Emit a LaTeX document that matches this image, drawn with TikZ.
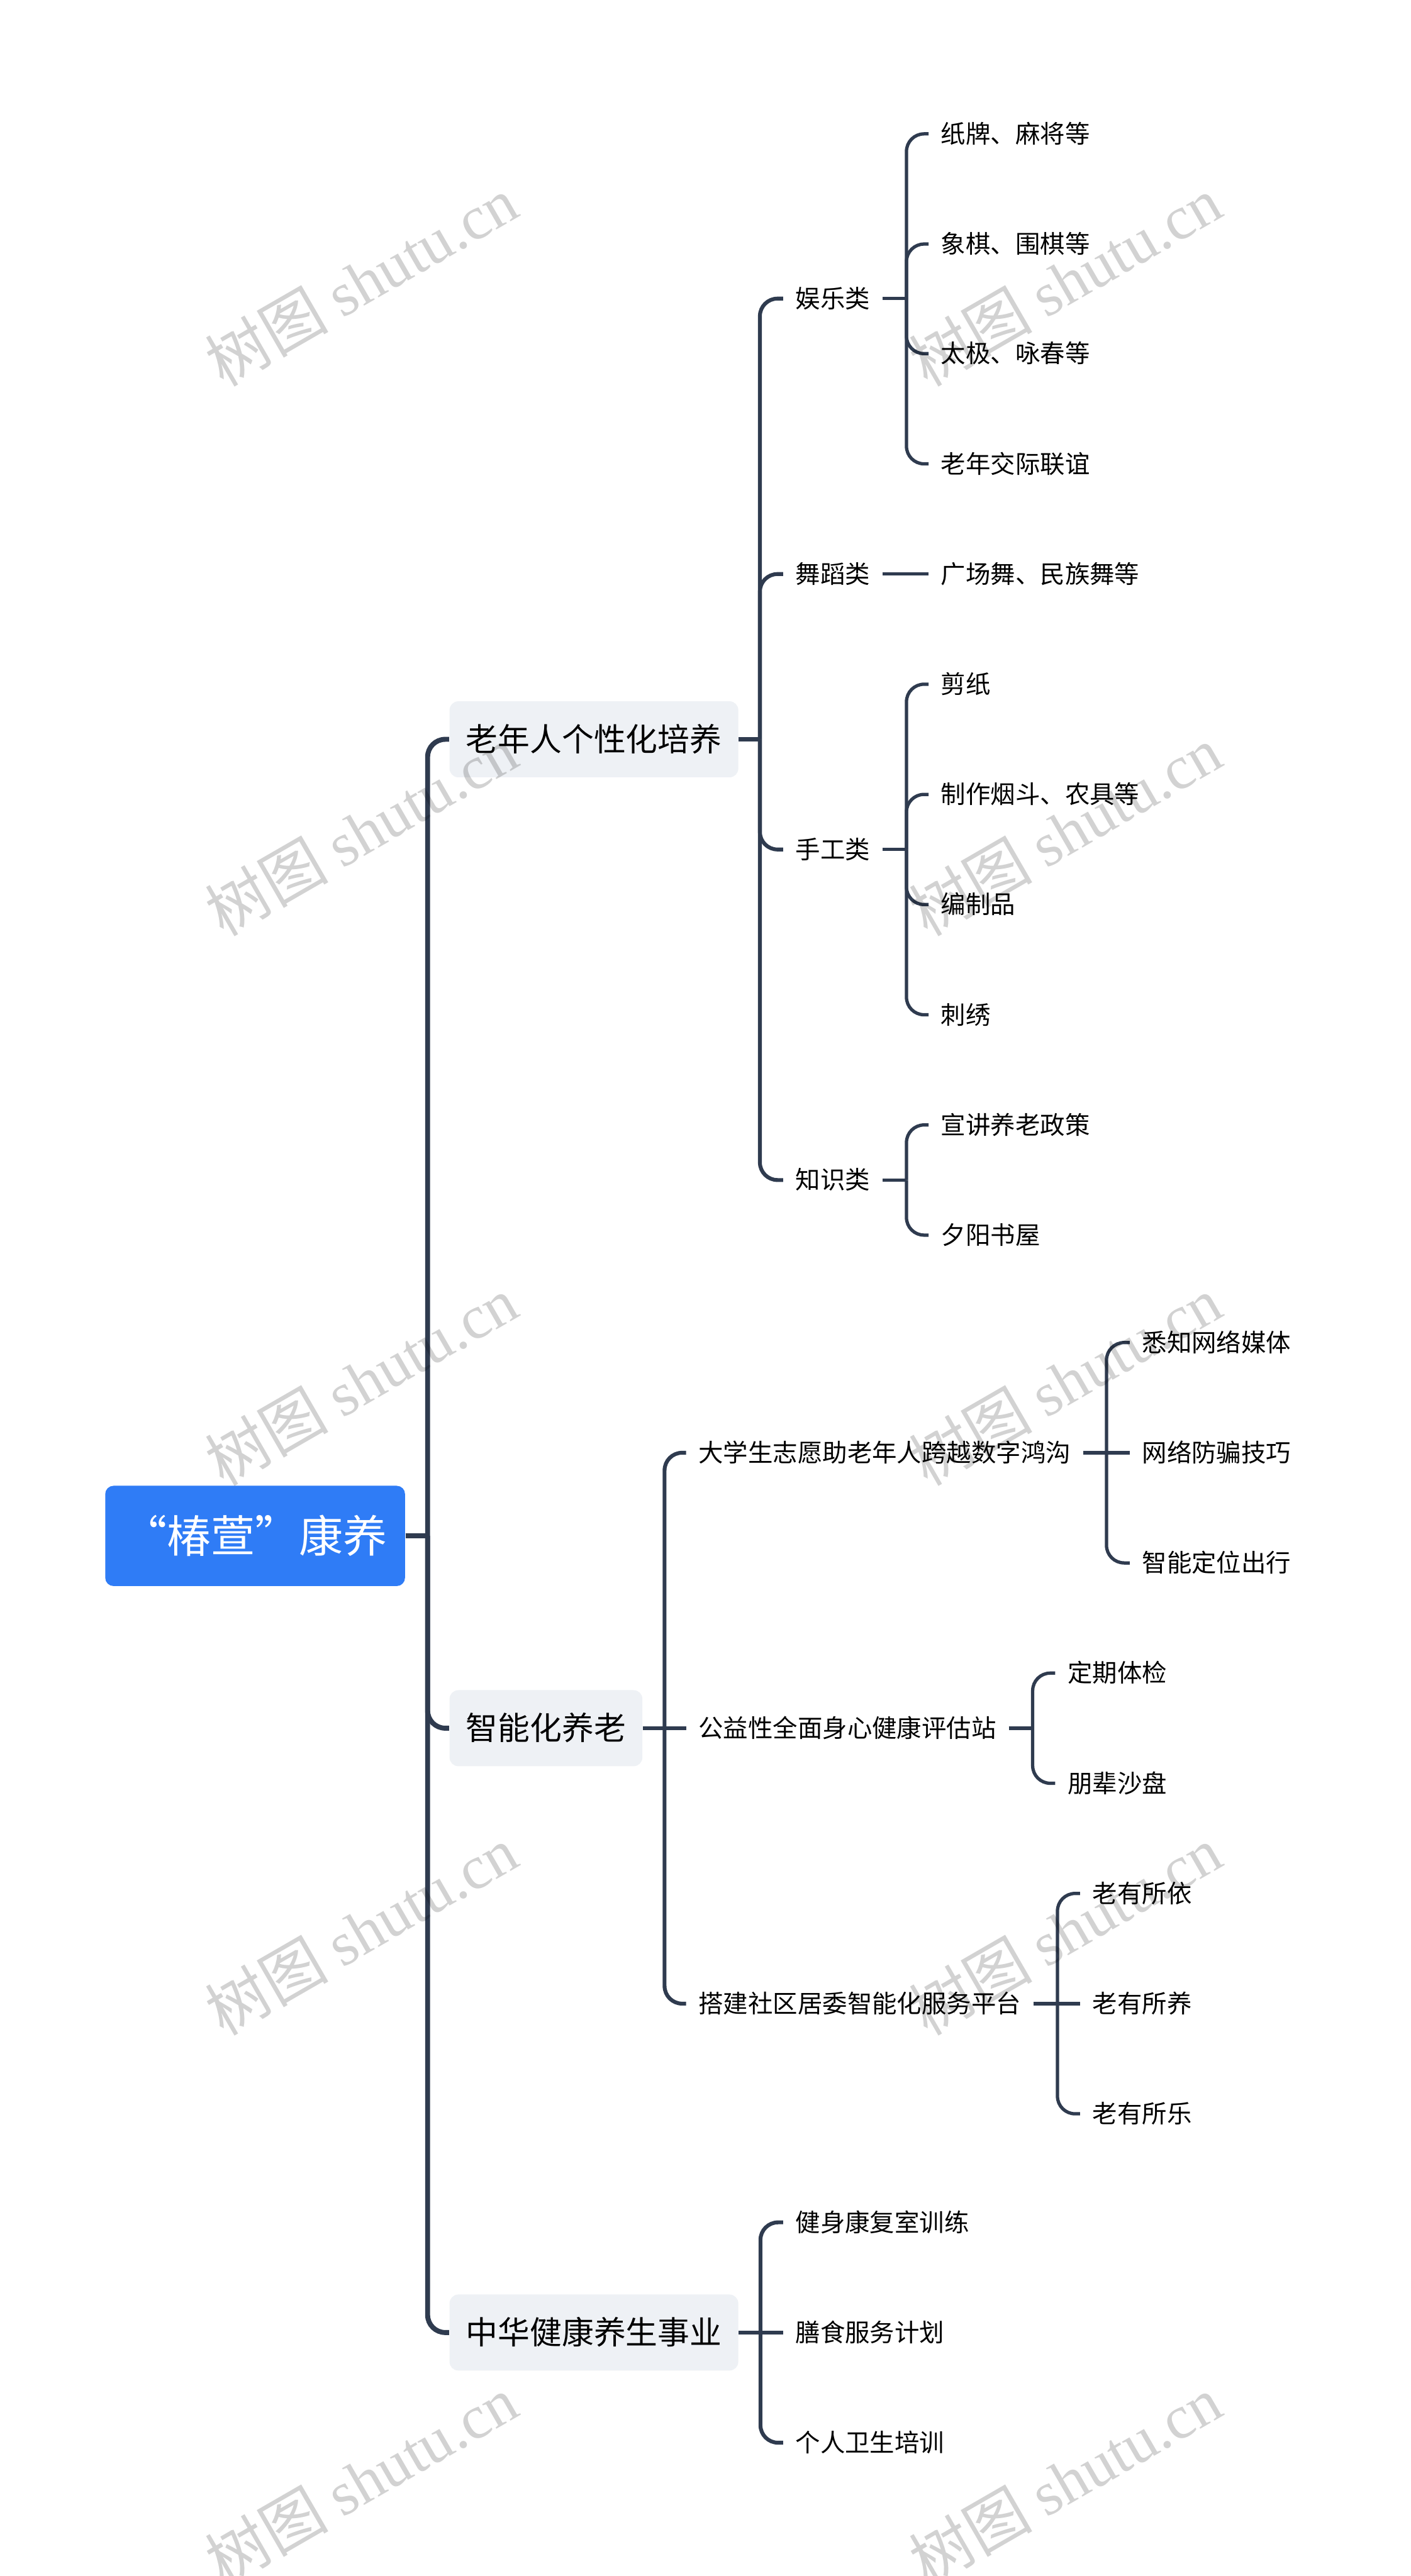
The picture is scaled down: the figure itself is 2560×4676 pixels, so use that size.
\documentclass[tikz,border=0pt]{standalone}
\usepackage{fontspec}
\setmainfont{Noto Sans CJK SC}
\newfontfamily\wmserif{Liberation Serif}
\newfontfamily\wmcjk{Noto Sans CJK SC}
\definecolor{linec}{HTML}{2F3B4F}
\definecolor{rootc}{HTML}{2F7CF6}
\definecolor{lonec}{HTML}{EEF1F5}
\definecolor{wmc}{HTML}{D2D2D2}
\tikzset{
  rootbox/.style={fill=rootc, rounded corners=3.75pt, minimum width=136pt, minimum height=45.5pt,
    text=white, inner sep=0pt, font=\fontsize{20pt}{24pt}\selectfont, text height=16pt, text depth=1.2pt},
  lonebox/.style={fill=lonec, rounded corners=4pt, minimum height=34.5pt, inner xsep=7.5pt, inner ysep=0pt,
    anchor=west, font=\fontsize{14.5pt}{18pt}\selectfont, text height=11.6pt, text depth=0.87pt},
  ltwo/.style={anchor=west, inner xsep=5.5pt, inner ysep=0pt,
    font=\fontsize{11.25pt}{14pt}\selectfont, text height=9pt, text depth=0.68pt},
  trunkline/.style={draw=linec, line width=2.25pt},
  boneline/.style={draw=linec, line width=1.75pt},
  btwoline/.style={draw=linec, line width=1.5pt},
  rc/.style={rounded corners=8pt},
  wmark/.style={text=wmc, rotate=30, inner sep=0pt, font=\fontsize{28pt}{32pt}\selectfont}
}
\begin{document}
\begin{tikzpicture}[x=0.25pt,y=-0.25pt]
\useasboundingbox (0,0) rectangle (2560,4676);
\fill[white] (0,0) rectangle (2560,4676);

% ---------- nodes ----------
\node[rootbox] (root) at (463,2788) {“椿萱”康养};

\node[lonebox] (A) at (815,1342) {老年人个性化培养};
\node[lonebox] (B) at (815,3137) {智能化养老};
\node[lonebox] (C) at (815,4234) {中华健康养生事业};

\node[ltwo] (a1) at (1421,542) {娱乐类};
\node[ltwo] (a2) at (1421,1042) {舞蹈类};
\node[ltwo] (a3) at (1421,1542) {手工类};
\node[ltwo] (a4) at (1421,2142) {知识类};

\node[ltwo] (a11) at (1685,243) {纸牌、麻将等};
\node[ltwo] (a12) at (1685,443) {象棋、围棋等};
\node[ltwo] (a13) at (1685,642) {太极、咏春等};
\node[ltwo] (a14) at (1685,842) {老年交际联谊};
\node[ltwo] (a21) at (1685,1042) {广场舞、民族舞等};
\node[ltwo] (a31) at (1685,1242) {剪纸};
\node[ltwo] (a32) at (1685,1442) {制作烟斗、农具等};
\node[ltwo] (a33) at (1685,1642) {编制品};
\node[ltwo] (a34) at (1685,1842) {刺绣};
\node[ltwo] (a41) at (1685,2042) {宣讲养老政策};
\node[ltwo] (a42) at (1685,2242) {夕阳书屋};

\node[ltwo] (b1) at (1245,2637) {大学生志愿助老年人跨越数字鸿沟};
\node[ltwo] (b2) at (1245,3137) {公益性全面身心健康评估站};
\node[ltwo] (b3) at (1245,3637) {搭建社区居委智能化服务平台};

\node[ltwo] (b11) at (2050,2437) {悉知网络媒体};
\node[ltwo] (b12) at (2050,2637) {网络防骗技巧};
\node[ltwo] (b13) at (2050,2837) {智能定位出行};
\node[ltwo] (b21) at (1915,3037) {定期体检};
\node[ltwo] (b22) at (1915,3237) {朋辈沙盘};
\node[ltwo] (b31) at (1960,3437) {老有所依};
\node[ltwo] (b32) at (1960,3637) {老有所养};
\node[ltwo] (b33) at (1960,3837) {老有所乐};

\node[ltwo] (c1) at (1421,4034) {健身康复室训练};
\node[ltwo] (c2) at (1421,4234) {膳食服务计划};
\node[ltwo] (c3) at (1421,4434) {个人卫生培训};

% ---------- junction points ----------
\coordinate (tJ) at (776,2788);
\coordinate (AJ) at (1379,1342);
\coordinate (BJ) at (1206,3137);
\coordinate (CJ) at (1380,4234);
\coordinate (a1J) at (1645,542);
\coordinate (a3J) at (1645,1542);
\coordinate (a4J) at (1645,2142);
\coordinate (b1J) at (2008,2637);
\coordinate (b2J) at (1874,3137);
\coordinate (b3J) at (1919,3637);

% ---------- trunk ----------
\draw[trunkline] (root.east) -- (tJ);
\draw[trunkline,rc] (tJ) |- (A.west);
\draw[trunkline,rc] (tJ) |- (B.west);
\draw[trunkline,rc] (tJ) |- (C.west);

% ---------- level 1 brackets ----------
\draw[boneline] (A.east) -- (AJ);
\foreach \n in {a1,a2,a3,a4} \draw[boneline,rc] (AJ) |- (\n.west);

\draw[boneline] (B.east) -- (BJ);
\draw[boneline,rc] (BJ) |- (b1.west);
\draw[boneline] (BJ) -- (b2.west);
\draw[boneline,rc] (BJ) |- (b3.west);

\draw[boneline] (C.east) -- (CJ);
\draw[boneline,rc] (CJ) |- (c1.west);
\draw[boneline] (CJ) -- (c2.west);
\draw[boneline,rc] (CJ) |- (c3.west);

% ---------- level 2 brackets ----------
\draw[btwoline] (a1.east) -- (a1J);
\foreach \n in {a11,a12,a13,a14} \draw[btwoline,rc] (a1J) |- (\n.west);
\draw[btwoline] (a2.east) -- (a21.west);
\draw[btwoline] (a3.east) -- (a3J);
\foreach \n in {a31,a32,a33,a34} \draw[btwoline,rc] (a3J) |- (\n.west);
\draw[btwoline] (a4.east) -- (a4J);
\foreach \n in {a41,a42} \draw[btwoline,rc] (a4J) |- (\n.west);

\draw[btwoline] (b1.east) -- (b1J);
\draw[btwoline,rc] (b1J) |- (b11.west);
\draw[btwoline] (b1J) -- (b12.west);
\draw[btwoline,rc] (b1J) |- (b13.west);
\draw[btwoline] (b2.east) -- (b2J);
\foreach \n in {b21,b22} \draw[btwoline,rc] (b2J) |- (\n.west);
\draw[btwoline] (b3.east) -- (b3J);
\draw[btwoline,rc] (b3J) |- (b31.west);
\draw[btwoline] (b3J) -- (b32.west);
\draw[btwoline,rc] (b3J) |- (b33.west);

% ---------- watermarks ----------
\begin{scope}[blend mode=multiply]
\node[wmark] (w1) at (655,510) {{\wmcjk 树图} {\wmserif shutu.cn}};
\node[wmark] (w2) at (1933,510) {{\wmcjk 树图} {\wmserif shutu.cn}};
\node[wmark] (w3) at (655,1508) {{\wmcjk 树图} {\wmserif shutu.cn}};
\node[wmark] (w4) at (1933,1508) {{\wmcjk 树图} {\wmserif shutu.cn}};
\node[wmark] (w5) at (655,2506) {{\wmcjk 树图} {\wmserif shutu.cn}};
\node[wmark] (w6) at (1933,2506) {{\wmcjk 树图} {\wmserif shutu.cn}};
\node[wmark] (w7) at (655,3504) {{\wmcjk 树图} {\wmserif shutu.cn}};
\node[wmark] (w8) at (1933,3504) {{\wmcjk 树图} {\wmserif shutu.cn}};
\node[wmark] (w9) at (655,4502) {{\wmcjk 树图} {\wmserif shutu.cn}};
\node[wmark] (w10) at (1933,4502) {{\wmcjk 树图} {\wmserif shutu.cn}};
\end{scope}
\end{tikzpicture}
\end{document}
